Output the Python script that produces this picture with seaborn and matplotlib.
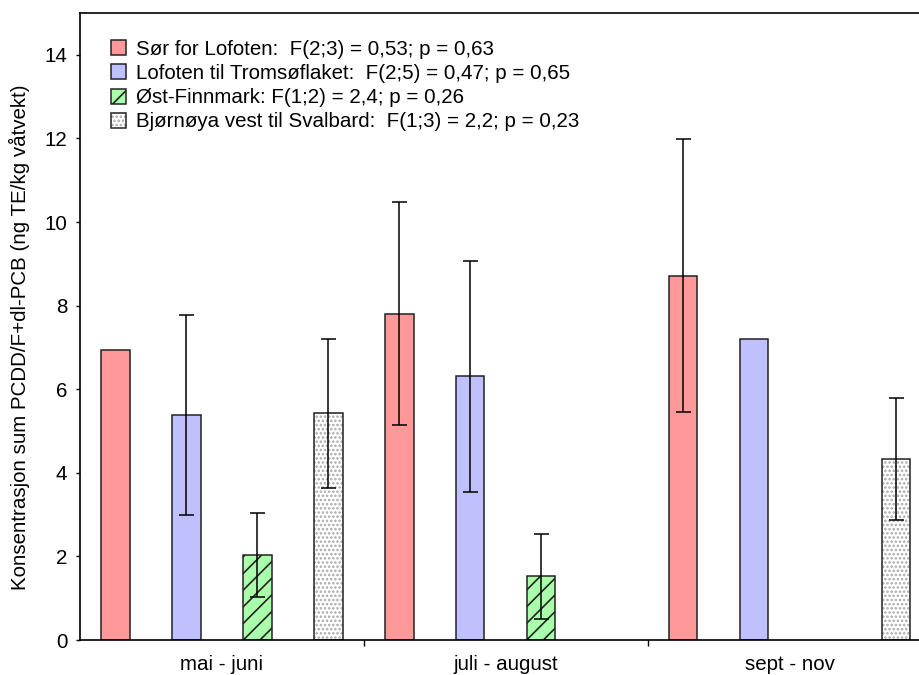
import numpy as np
import pandas as pd
import matplotlib
matplotlib.use("Agg")
import matplotlib.pyplot as plt
from matplotlib.patches import Patch
import seaborn as sns

# Values (NaN = no bar / no error bar)
periods = ["mai - juni", "juli - august", "sept - nov"]
regions = [
    "Sør for Lofoten:  F(2;3) = 0,53; p = 0,63",
    "Lofoten til Tromsøflaket:  F(2;5) = 0,47; p = 0,65",
    "Øst-Finnmark: F(1;2) = 2,4; p = 0,26",
    "Bjørnøya vest til Svalbard:  F(1;3) = 2,2; p = 0,23",
]
sor_lofoten = [6.94, 7.81, 8.72]
lofoten_troms = [5.39, 6.31, 7.21]
ost_finnmark = [2.03, 1.52, np.nan]
bjornoya = [5.42, np.nan, 4.34]

sor_lofoten_err = [np.nan, 2.67, 3.26]
lofoten_troms_err = [2.39, 2.76, np.nan]
ost_finnmark_err = [1.00, 1.01, np.nan]
bjornoya_err = [1.79, np.nan, 1.46]

colors = ["#ff9999", "#c0c0ff", "#aaffaa", "#ffffff"]
hatches = ["", "", "//", "...."]
y_ticks = [0, 2, 4, 6, 8, 10, 12, 14]
y_label = "Konsentrasjon sum PCDD/F+dl-PCB (ng TE/kg våtvekt)"

values = [sor_lofoten, lofoten_troms, ost_finnmark, bjornoya]
errors = [sor_lofoten_err, lofoten_troms_err, ost_finnmark_err, bjornoya_err]

rows = []
for reg, vals in zip(regions, values):
    for per, v in zip(periods, vals):
        rows.append({"periode": per, "region": reg, "verdi": v})
df = pd.DataFrame(rows).dropna()

sns.set_style("ticks")
plt.rcParams["font.family"] = ["Liberation Sans", "DejaVu Sans"]
plt.rcParams["hatch.linewidth"] = 1.2
for key in ["text.color", "axes.labelcolor", "xtick.color", "ytick.color"]:
    plt.rcParams[key] = "black"
fs = 14.8


def grey_dots(patch):
    # dotted pattern in light grey while keeping the dark outline
    if hasattr(patch, "set_hatchcolor"):
        patch.set_hatchcolor("#a8a8a8")
    else:
        patch._hatch_color = (0.66, 0.66, 0.66, 1.0)


fig = plt.figure(figsize=(9.2, 6.75), dpi=100)
ax = fig.add_axes([80 / 920, 35 / 675, 851.5 / 920, 627 / 675])

sns.barplot(data=df, x="periode", y="verdi", hue="region",
            order=periods, hue_order=regions,
            palette=dict(zip(regions, colors)),
            width=1.0, gap=0.6, errorbar=None,
            edgecolor="#222222", linewidth=1.1, saturation=1,
            legend=False, ax=ax)

bar_containers = list(ax.containers)
for j, cont in enumerate(bar_containers):
    present = [i for i, v in enumerate(values[j]) if not np.isnan(v)]
    for bar, i in zip(cont.patches, present):
        bar.set_hatch(hatches[j])
        if j == 3:
            grey_dots(bar)
        err = errors[j][i]
        if not np.isnan(err):
            ax.errorbar(bar.get_x() + bar.get_width() / 2, bar.get_height(),
                        yerr=err, fmt="none", ecolor="black",
                        elinewidth=1.1, capsize=5.4, capthick=1.1, zorder=5)

ax.set_xlim(-0.5, 2.5)
ax.set_ylim(0, 15)
ax.set_yticks(y_ticks)
ax.set_xticks([0, 1, 2])
ax.set_xticklabels(periods)
ax.set_xticks([0.5, 1.5], minor=True)
ax.tick_params(axis="x", which="major", length=0, pad=11, labelsize=fs)
ax.tick_params(axis="x", which="minor", length=4, width=1, direction="out")
ax.tick_params(axis="y", length=3, width=1, direction="out", pad=6,
               labelsize=fs)
ax.set_xlabel("")
ax.set_ylabel(y_label, fontsize=fs)
ax.yaxis.set_label_coords(-0.0587, 0.483)
for s in ax.spines.values():
    s.set_linewidth(1.2)
    s.set_color("black")

handles = [Patch(facecolor=c, edgecolor="#222222", hatch=h, linewidth=1.1)
           for c, h in zip(colors, hatches)]
leg = fig.legend(handles, regions, loc="upper left",
                 bbox_to_anchor=(111 / 920, 1 - 40 / 675),
                 frameon=False, fontsize=fs, borderpad=0, borderaxespad=0,
                 handlelength=0.75, handleheight=0.75, handletextpad=0.45,
                 labelspacing=0.25)
grey_dots(leg.legend_handles[3])

fig.savefig("out.png", dpi=100)
